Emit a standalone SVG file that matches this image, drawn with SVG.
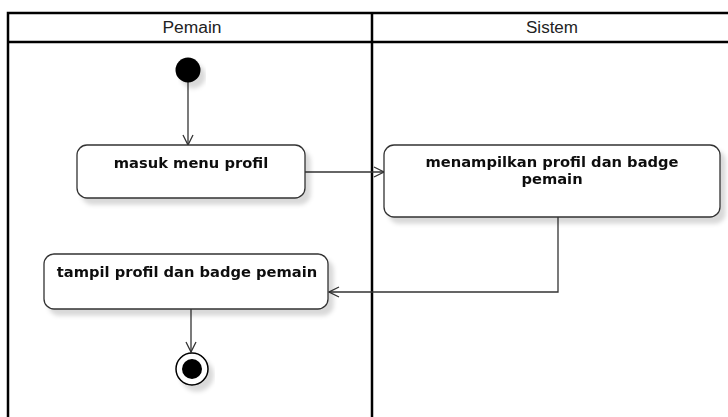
<svg xmlns="http://www.w3.org/2000/svg" width="728" height="417" viewBox="0 0 728 417">
  <defs>
    <filter id="shadow" x="-10%" y="-20%" width="130%" height="160%">
      <feGaussianBlur in="SourceAlpha" stdDeviation="2"/>
      <feOffset dx="5" dy="6" result="b"/>
      <feFlood flood-color="#000" flood-opacity="0.15"/>
      <feComposite in2="b" operator="in"/>
      <feMerge><feMergeNode/><feMergeNode in="SourceGraphic"/></feMerge>
    </filter>
    <marker id="open" viewBox="0 0 12 12" refX="11" refY="6" markerWidth="12" markerHeight="12" markerUnits="userSpaceOnUse" orient="auto">
      <path d="M1,1 L11,6 L1,11" fill="none" stroke="#333" stroke-width="1.3"/>
    </marker>
    <style>
      .lane { fill: none; stroke: #000; stroke-width: 2.5; }
      .hdr { font-family: "Liberation Sans", Arial, sans-serif; font-size: 16px; fill: #222; text-anchor: middle; }
      .act rect { fill: #fff; stroke: #333; stroke-width: 1.3; }
      .act text { font-family: "DejaVu Sans", Verdana, sans-serif; font-weight: bold; font-size: 14.7px; fill: #111; text-anchor: middle; }
      .edge { fill: none; stroke: #333; stroke-width: 1.3; marker-end: url(#open); }
    </style>
  </defs>
  <rect width="728" height="417" fill="#fff"/>

  <!-- swimlanes -->
  <g id="lanes">
    <path class="lane" d="M8,420 V13 H732 M8,42 H732 M372,13 V420"/>
    <text class="hdr" x="192" y="33" textLength="59" lengthAdjust="spacingAndGlyphs">Pemain</text>
    <text class="hdr" x="552" y="33" textLength="52" lengthAdjust="spacingAndGlyphs">Sistem</text>
  </g>

  <!-- connectors -->
  <g id="connectors">
    <path class="edge" d="M188,82 V145"/>
    <path class="edge" d="M305,172 H384"/>
    <path class="edge" d="M558,217 V292 H329"/>
    <path class="edge" d="M191,309 V352"/>
  </g>

  <g id="start" filter="url(#shadow)">
    <circle cx="188" cy="70" r="12.5" fill="#000"/>
  </g>

  <g id="masuk-menu-profil" class="act" filter="url(#shadow)">
    <rect x="77" y="145" width="228" height="53" rx="10"/>
    <text x="191" y="168">masuk menu profil</text>
  </g>

  <g id="menampilkan-profil" class="act" filter="url(#shadow)">
    <rect x="384" y="145" width="336" height="72" rx="10"/>
    <text x="552" y="167">menampilkan profil dan badge</text>
    <text x="552" y="184">pemain</text>
  </g>

  <g id="tampil-profil" class="act" filter="url(#shadow)">
    <rect x="44" y="254" width="284" height="55" rx="10"/>
    <text x="187" y="277">tampil profil dan badge pemain</text>
  </g>

  <g id="end" filter="url(#shadow)">
    <circle cx="192" cy="369" r="16" fill="#fff" stroke="#000" stroke-width="1.5"/>
    <circle cx="192" cy="369" r="10" fill="#000"/>
  </g>
</svg>
